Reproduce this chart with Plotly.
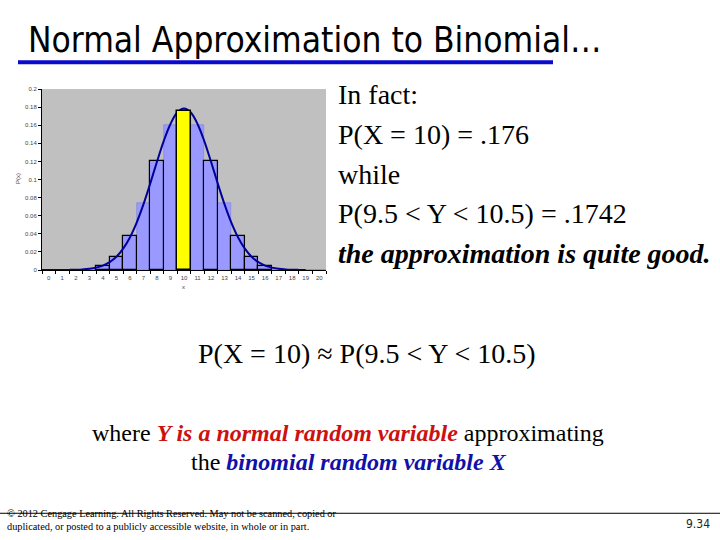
import plotly.graph_objects as go

# ---- data ----
x_vals = list(range(21))
probs = [0.000001, 0.00002, 0.0002, 0.0011, 0.0046, 0.0148, 0.0370, 0.0739,
         0.1201, 0.1602, 0.1762, 0.1602, 0.1201, 0.0739, 0.0370, 0.0148,
         0.0046, 0.0011, 0.0002, 0.00002, 0.000001]
outlined_x = [4, 5, 6, 8, 12, 14, 15, 16]
highlight_x = 10
curve_x = [-0.5, 0, 0.5, 1, 1.5, 2, 2.5, 3, 3.5, 4, 4.5, 5, 5.5, 6, 6.5, 7, 7.5,
           8, 8.5, 9, 9.5, 10, 10.5, 11, 11.5, 12, 12.5, 13, 13.5, 14, 14.5,
           15, 15.5, 16, 16.5, 17, 17.5, 18, 18.5, 19]
curve_y = [0.0000, 0.0000, 0.00002, 0.00005, 0.00013, 0.0003, 0.00064, 0.0013,
           0.0026, 0.0049, 0.0087, 0.0146, 0.0236, 0.0360, 0.0524, 0.0725,
           0.0955, 0.1196, 0.1425, 0.1614, 0.1740, 0.1784, 0.1740, 0.1614,
           0.1425, 0.1196, 0.0955, 0.0725, 0.0524, 0.0360, 0.0236, 0.0146,
           0.0087, 0.0049, 0.0026, 0.0013, 0.00064, 0.0003, 0.00013, 0.00005]
y_ticks = [0, 0.02, 0.04, 0.06, 0.08, 0.1, 0.12, 0.14, 0.16, 0.18, 0.2]
y_tick_text = ["0", "0.02", "0.04", "0.06", "0.08", "0.1", "0.12", "0.14", "0.16", "0.18", "0.2"]

W, H = 720, 540
def px(x):
    return x / W
def py(y):
    return 1 - y / H

fig = go.Figure()

fig.add_trace(go.Bar(x=x_vals, y=probs, width=1, marker=dict(color="#9999FF",
                     line=dict(color="#8080E0", width=0.6)), showlegend=False))
outlined_y = [probs[x_vals.index(v)] for v in outlined_x]
fig.add_trace(go.Bar(x=outlined_x, y=outlined_y, width=1,
                     marker=dict(color="rgba(0,0,0,0)", line=dict(color="#000000", width=1.2)),
                     showlegend=False))
fig.add_trace(go.Scatter(x=curve_x, y=curve_y, mode="lines", line=dict(color="#00009C", width=2, shape="spline"),
                         showlegend=False))
fig.add_trace(go.Bar(x=[highlight_x], y=[probs[x_vals.index(highlight_x)]], width=1,
                     marker=dict(color="#FFFF00", line=dict(color="#000000", width=1.5)),
                     showlegend=False, xaxis="x2", yaxis="y2"))

tick_font = dict(family="Liberation Sans, Arial", size=6, color="#444444")
dom_x = [px(42), px(326)]
dom_y = [py(270), py(87)]

fig.update_layout(
    width=W, height=H,
    margin=dict(l=0, r=0, t=0, b=0),
    paper_bgcolor="white",
    plot_bgcolor="#C0C0C0",
    barmode="overlay",
    bargap=0,
    xaxis=dict(domain=dom_x, range=[-0.5, 20.5], tickvals=x_vals, ticktext=[str(v) for v in x_vals],
               ticks="", showgrid=False, zeroline=False, showline=True, linecolor="#000000", linewidth=1,
               tickfont=tick_font, ticklabelstandoff=2,
               minor=dict(tick0=-0.5, dtick=1, ticks="outside", ticklen=3, tickcolor="#000000", showgrid=False),
               anchor="y", fixedrange=True),
    yaxis=dict(domain=dom_y, range=[0, 0.2], tickvals=y_ticks, ticktext=y_tick_text,
               ticks="outside", ticklen=3, tickcolor="#000000", showgrid=False, zeroline=False,
               showline=True, linecolor="#000000", linewidth=1, tickfont=tick_font, anchor="x"),
    xaxis2=dict(domain=dom_x, range=[-0.5, 20.5], overlaying="x", visible=False, anchor="y2"),
    yaxis2=dict(domain=dom_y, range=[0, 0.2], overlaying="y", visible=False, anchor="x2"),
)

annos = []
def add_text(x, y, text, font, xanchor="left", **kw):
    annos.append(dict(x=px(x), y=py(y), xref="paper", yref="paper", text=text, showarrow=False,
                      font=font, xanchor=xanchor, yanchor="middle", **kw))

small = dict(family="Liberation Sans, Arial", size=6, color="#444444")
add_text(18, 178, "P(x)", small, xanchor="center", textangle=-90)
add_text(183, 287, "x", small, xanchor="center")

add_text(26, 37, "Normal Approximation to Binomial…",
         dict(family="Liberation Sans Narrow, DejaVu Sans Condensed, Arial", size=35, color="#000000"))

serif = "Liberation Serif, Times New Roman, serif"
right_lines = ["In fact:", "P(X = 10) = .176", "while", "P(9.5 &lt; Y &lt; 10.5) = .1742",
               "<b><i>the approximation is quite good.</i></b>"]
for i, t in enumerate(right_lines):
    add_text(336, 93 + 40 * i, t, dict(family=serif, size=28, color="#000000"))

add_text(367, 354, "P(X = 10) ≈ P(9.5 &lt; Y &lt; 10.5)", dict(family=serif, size=28, color="#000000"),
         xanchor="center")

add_text(348, 435,
         "where <span style='color:#CC1111'><b><i>Y is a normal random variable</i></b></span> approximating",
         dict(family=serif, size=24, color="#000000"), xanchor="center")
add_text(349, 464,
         "the <span style='color:#1111AA'><b><i>binomial random variable X</i></b></span>",
         dict(family=serif, size=24, color="#000000"), xanchor="center")

add_text(5, 516, "© 2012 Cengage Learning. All Rights Reserved. May not be scanned, copied or",
         dict(family=serif, size=10.3, color="#000000"))
add_text(5, 529, "duplicated, or posted to a publicly accessible website, in whole or in part.",
         dict(family=serif, size=10.3, color="#000000"))
add_text(712, 527, "9.34",
         dict(family="Liberation Sans Narrow, DejaVu Sans Condensed, Arial", size=12, color="#222222"),
         xanchor="right")

fig.update_layout(annotations=annos)

fig.update_layout(shapes=[
    dict(type="line", xref="paper", yref="paper", x0=px(18), x1=px(553), y0=py(60), y1=py(60),
         line=dict(color="#0A0ACC", width=4)),
    dict(type="line", xref="paper", yref="paper", x0=0, x1=1, y0=py(516), y1=py(516),
         line=dict(color="#000000", width=1)),
])

fig.write_html("out.html", config={"displayModeBar": False},
               post_script="document.body.style.margin='0';document.body.style.padding='0';")
